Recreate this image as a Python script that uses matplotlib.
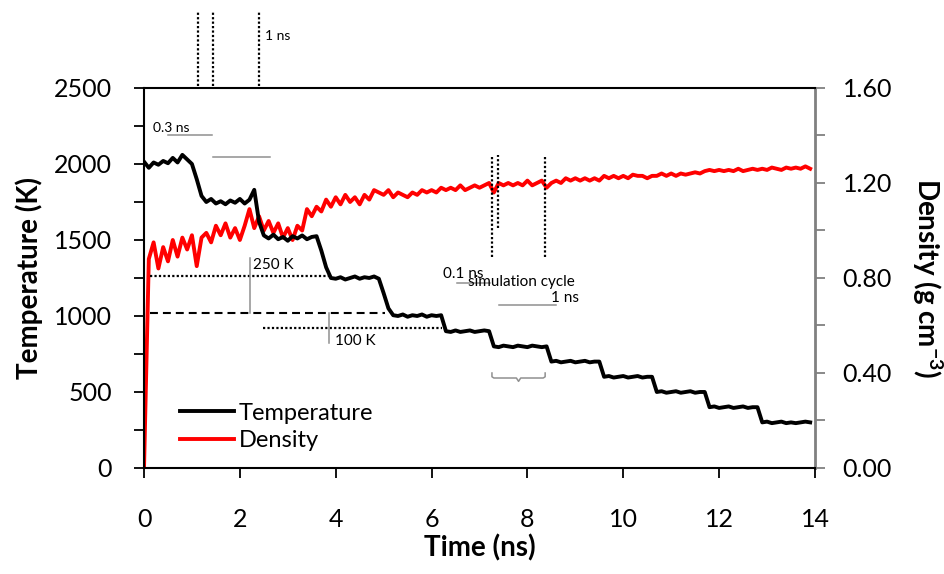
import numpy as np
import matplotlib
matplotlib.use("Agg")
import matplotlib.pyplot as plt

plt.rcParams['font.family'] = ['Lato', 'DejaVu Sans']
plt.rcParams['mathtext.fontset'] = 'custom'
plt.rcParams['mathtext.bf'] = 'Lato:bold'
plt.rcParams['mathtext.rm'] = 'Lato'

# time grid (ns), one sample every 0.1 ns
time_ns = np.round(np.arange(0, 140) * 0.1, 1)

# temperature (K)
temperature = [
    2015, 1975, 2010, 1995, 2020, 2005, 2040, 2010, 2060, 2030,
    2000, 1900, 1790, 1750, 1770, 1740, 1755, 1735, 1760, 1745,
    1770, 1740, 1765, 1830, 1620, 1530, 1510, 1535, 1505, 1520,
    1495, 1525, 1510, 1530, 1505, 1520, 1525, 1430, 1320, 1250,
    1245, 1255, 1240, 1250, 1260, 1245, 1255, 1250, 1260, 1245,
    1150, 1050, 1005, 1000, 1010, 995, 1005, 1000, 1010, 995,
    1005, 1000, 1005, 900, 895, 905, 895, 900, 905, 895,
    900, 905, 900, 800, 795, 805, 800, 795, 805, 800,
    795, 805, 800, 795, 800, 700, 705, 695, 700, 705,
    695, 700, 705, 695, 700, 700, 600, 605, 595, 600,
    605, 595, 600, 605, 595, 600, 600, 500, 505, 495,
    500, 505, 495, 500, 505, 495, 500, 500, 400, 405,
    395, 400, 405, 395, 400, 405, 395, 400, 400, 300,
    305, 295, 300, 305, 295, 300, 295, 300, 305, 300,
]

# density (g cm-3)
density = [
    0.00, 0.88, 0.95, 0.84, 0.93, 0.87, 0.96, 0.89, 0.97, 0.92,
    0.98, 0.85, 0.97, 0.99, 0.95, 1.02, 0.98, 1.03, 0.97, 1.01,
    0.96, 1.02, 1.09, 1.01, 1.06, 1.00, 1.04, 0.99, 1.03, 0.97,
    1.01, 0.96, 1.02, 1.00, 1.09, 1.06, 1.10, 1.08, 1.13, 1.10,
    1.14, 1.11, 1.15, 1.12, 1.14, 1.11, 1.15, 1.13, 1.17, 1.16,
    1.15, 1.17, 1.14, 1.16, 1.15, 1.14, 1.16, 1.15, 1.17, 1.16,
    1.17, 1.16, 1.18, 1.17, 1.18, 1.17, 1.19, 1.17, 1.18, 1.19,
    1.18, 1.19, 1.20, 1.16, 1.20, 1.19, 1.20, 1.19, 1.20, 1.19,
    1.21, 1.19, 1.20, 1.21, 1.18, 1.20, 1.21, 1.20, 1.22, 1.21,
    1.22, 1.21, 1.22, 1.21, 1.22, 1.21, 1.23, 1.22, 1.23, 1.22,
    1.23, 1.22, 1.235, 1.23, 1.23, 1.22, 1.23, 1.23, 1.24, 1.23,
    1.24, 1.23, 1.24, 1.235, 1.24, 1.245, 1.24, 1.25, 1.255, 1.25,
    1.255, 1.25, 1.255, 1.25, 1.26, 1.25, 1.255, 1.26, 1.255, 1.26,
    1.255, 1.265, 1.26, 1.255, 1.265, 1.26, 1.265, 1.26, 1.27, 1.26,
]

temp_ticks = [0, 500, 1000, 1500, 2000, 2500]
dens_ticks = [0.0, 0.4, 0.8, 1.2, 1.6]
time_ticks = [0, 2, 4, 6, 8, 10, 12, 14]

fig = plt.figure(figsize=(9.45, 5.74), dpi=100)
ax = fig.add_axes([0.1524, 0.1847, 0.71, 0.662])
ax2 = ax.twinx()

ax.plot(time_ns, temperature, color='black', lw=2.8, label='Temperature', zorder=3)
ax2.plot(time_ns, density, color='red', lw=2.8, label='Density', zorder=2)
ax.set_zorder(ax2.get_zorder() + 1)
ax.patch.set_visible(False)

ax.set_xlim(0, 14)
ax.set_ylim(0, 2500)
ax2.set_ylim(0, 1.6)
ax.set_xticks(time_ticks)
ax.set_yticks(temp_ticks)
ax.set_yticks([250, 750, 1250, 1750, 2250], minor=True)
ax2.set_yticks(dens_ticks)
ax2.set_yticklabels([f"{v:.2f}" for v in dens_ticks])
ax2.set_yticks([0.2, 0.6, 1.0, 1.4], minor=True)

ax.tick_params(axis='x', direction='out', length=7, width=1.3, labelsize=18, pad=22)
ax.tick_params(axis='y', which='both', direction='out', length=7, width=1.3, labelsize=18, pad=16)
ax2.tick_params(axis='y', which='both', direction='out', length=7, width=1.3,
                color='#808080', labelsize=18, pad=13)

for s in ['left', 'bottom', 'top']:
    ax.spines[s].set_linewidth(1.5)
    ax.spines[s].set_color('black')
ax.spines['right'].set_visible(False)
for s in ['left', 'bottom', 'top']:
    ax2.spines[s].set_visible(False)
ax2.spines['right'].set_color('#808080')
ax2.spines['right'].set_linewidth(2)

ax.set_xlabel('Time (ns)', fontsize=20, fontweight='bold', labelpad=2)
ax.set_ylabel('Temperature (K)', fontsize=20, fontweight='bold', labelpad=8)
ax2.set_ylabel('Density (g cm$^{\\mathbf{-3}}$)', fontsize=20, fontweight='bold',
               rotation=270, labelpad=38)

h1, l1 = ax.get_legend_handles_labels()
h2, l2 = ax2.get_legend_handles_labels()
ax.legend(h1 + h2, l1 + l2, loc='lower left', bbox_to_anchor=(0.022, -0.012),
          frameon=False, fontsize=17, handlelength=2.3, handletextpad=0.2,
          labelspacing=0.28)

# annotations
dot = dict(color='black', lw=1.6, ls=(0, (1, 1)), clip_on=False)
gray = dict(color='#909090', lw=1.1, clip_on=False)

for xv in [1.13, 1.44, 2.40]:
    ax.plot([xv, xv], [2510, 3000], **dot)
ax.text(2.52, 2842, '1 ns', fontsize=10, va='center')
ax.text(0.19, 2237, '0.3 ns', fontsize=10, va='center')
ax.plot([0.5, 1.42], [2191, 2191], **gray)
ax.plot([1.44, 2.63], [2046, 2046], **gray)

ax.plot([0.13, 3.88], [1263, 1263], **dot)
ax.plot([0.13, 5.03], [1020, 1020], color='black', lw=1.5, ls=(0, (3.8, 2.4)))
ax.plot([2.48, 6.22], [921, 921], **dot)
ax.plot([2.21, 2.21], [1382, 1020], **gray)
ax.text(2.28, 1338, '250 K', fontsize=11, va='center')
ax.plot([3.86, 3.86], [1020, 822], **gray)
ax.text(3.99, 835, '100 K', fontsize=11, va='center')

for xv, ytop, ybot in [(7.26, 2059, 1388), (7.39, 2059, 1579), (8.37, 2059, 1388)]:
    ax.plot([xv, xv], [ybot, ytop], **dot)
ax.text(6.24, 1276, '0.1 ns', fontsize=11, va='center')
ax.plot([6.53, 7.22], [1217, 1217], **gray)
ax.text(6.76, 1224, 'simulation cycle', fontsize=11, va='center')
ax.text(8.49, 1118, '1 ns', fontsize=11, va='center')
ax.plot([7.41, 8.6], [1072, 1072], **gray)

brace_x = [7.26, 7.26, 7.30, 7.77, 7.815, 7.86, 8.33, 8.37, 8.37]
brace_y = [625, 600, 592, 592, 570, 592, 592, 600, 625]
ax.plot(brace_x, brace_y, **gray)

fig.savefig('out.png', dpi=100)
